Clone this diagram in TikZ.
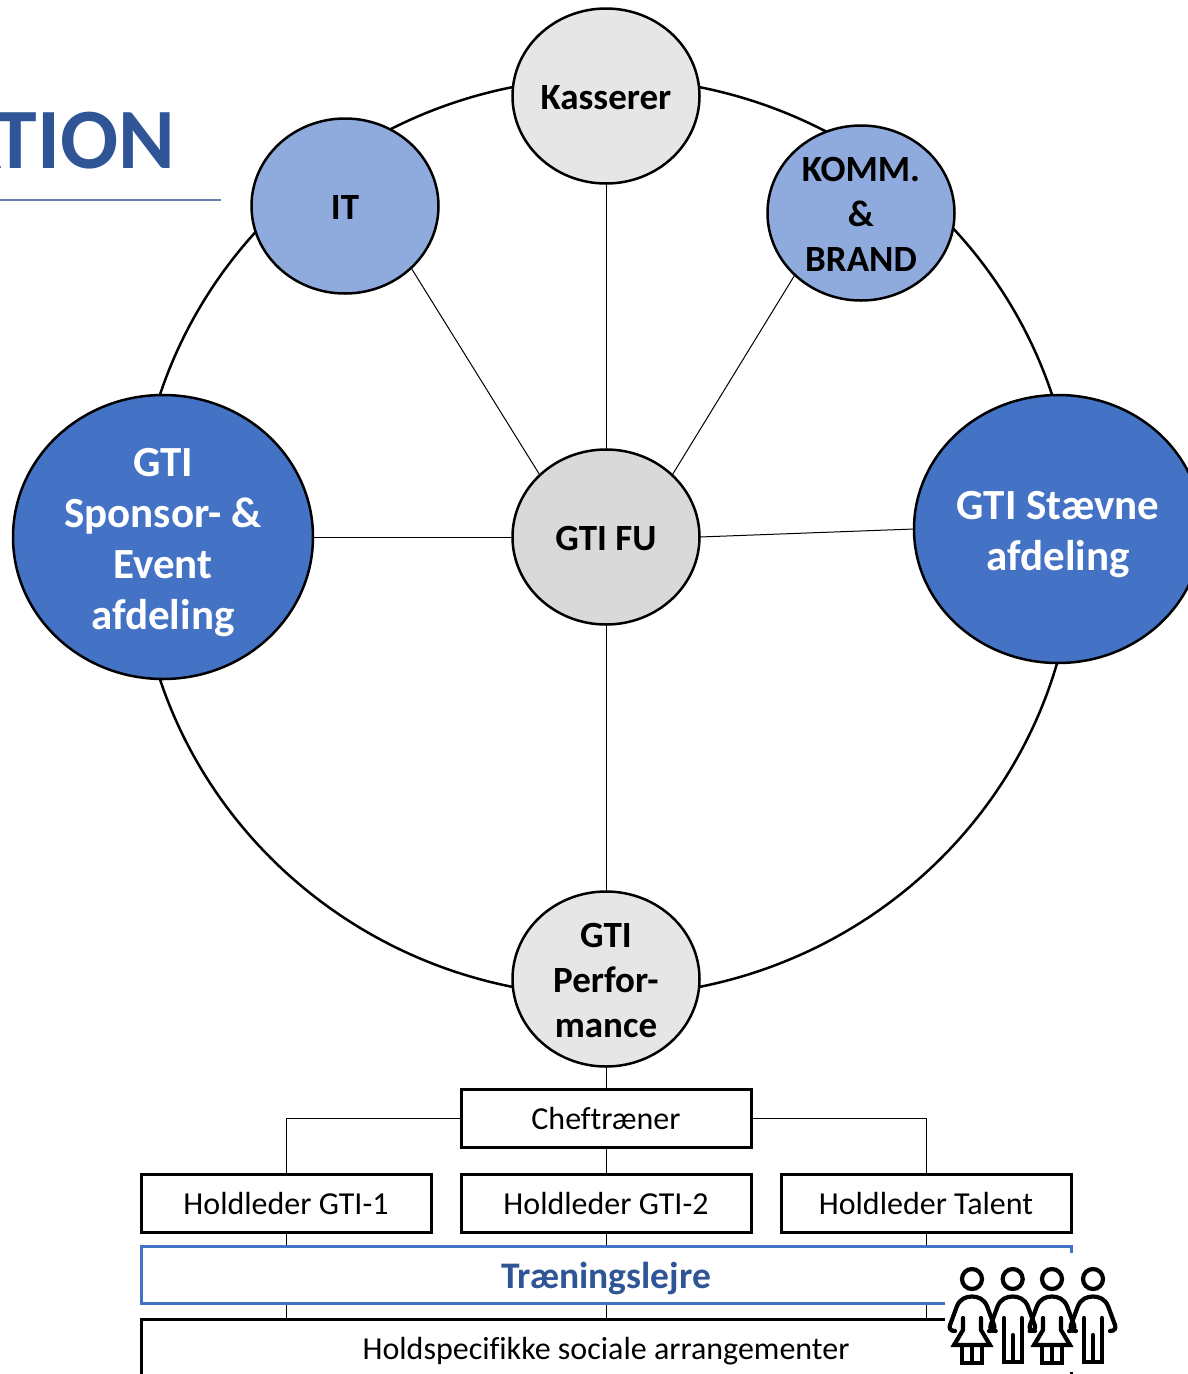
\documentclass[tikz,border=0pt]{standalone}
\usepackage{fontspec}
\setmainfont{Carlito}[Ligatures=NoCommon]
\usetikzlibrary{shapes.geometric}
\definecolor{titleblue}{HTML}{2F5597}
\definecolor{midblue}{HTML}{4472C4}
\definecolor{lightblue}{HTML}{8FAADC}
\definecolor{palegrey}{HTML}{E7E6E6}
\definecolor{fugrey}{HTML}{D9D9D9}
\newcommand{\topstrut}[1]{\rule{0pt}{#1pt}}
\tikzset{
  x=1pt,y=-1pt,
  circ/.style={ellipse,draw=black,line width=2.5pt,inner sep=0pt,outer sep=0pt,align=center,font=\bfseries},
  small/.style={circ,minimum width=187pt,minimum height=175pt,font=\fontsize{37}{45}\bfseries\selectfont},
  large/.style={circ,fill=midblue,text=white,font=\fontsize{43}{51}\bfseries\selectfont},
  conn/.style={draw=black,line width=1pt},
  boxn/.style={draw=black,line width=3pt,fill=white,minimum width=290pt,minimum height=58pt,inner sep=0pt,outer sep=0pt,font=\fontsize{32}{38}\selectfont},
  person/.style={draw=black,line width=4.2pt,line join=miter,line cap=round},
  torso/.pic={
    \draw[person] (0,0) circle (10);
    \draw[person] (-17,52) .. controls (-22,52) and (-23,49) .. (-22,46)
      -- (-15,27) .. controls (-12,20) and (-6,17.5) .. (0,17.5)
      .. controls (6,17.5) and (12,20) .. (15,27) -- (22,46)
      .. controls (23,49) and (22,52) .. (17,52);
  },
  womanicon/.pic={
    \pic {torso};
    \draw[person] (-9,39) -- (-9,51) -- (-18,66) -- (18,66) -- (9,51) -- (9,39);
    \draw[person] (-10,66) -- (-10,84) -- (10,84) -- (10,66);
    \draw[person] (0,66) -- (0,84);
  },
  manicon/.pic={
    \pic {torso};
    \draw[person] (-9,39) -- (-9,83) -- (9,83) -- (9,39);
    \draw[person] (0,56) -- (0,83);
  },
}
\begin{document}
\begin{tikzpicture}
\useasboundingbox (0,0) rectangle (1188,1374);
\clip (0,0) rectangle (1188,1374);
\fill[white] (0,0) rectangle (1188,1374);
% title
\node[anchor=base east,inner sep=0pt,text=titleblue,font=\fontsize{86}{86}\bfseries\selectfont] (title) at (175,168) {ATION};
\coordinate (ruleL) at (0,200);
\coordinate (ruleR) at (221,200);
\draw[color=titleblue!75,line width=1.8pt] (ruleL) -- (ruleR);
% ring
\draw[black,line width=2.5pt] (606,537) ellipse (469 and 459);
% nodes
\node[small,fill=fugrey] (fu) at (606,537) {\topstrut{27}GTI FU};
\node[small,fill=palegrey] (kass) at (606,96) {\topstrut{28}Kasserer};
\node[small,fill=lightblue] (it) at (345,206) {\topstrut{26}IT};
\node[small,fill=lightblue] (komm) at (861,213) {\topstrut{27}KOMM.\\\&\\BRAND};
\node[small,fill=palegrey] (perf) at (606,979) {\topstrut{28}GTI\\Perfor-\\mance};
\node[large,minimum width=300pt,minimum height=284pt] (spon) at (163,537) {\topstrut{39}GTI\\Sponsor- \&\\Event\\afdeling};
\node[large,minimum width=288pt,minimum height=268pt] (stav) at (1058,529) {\topstrut{39}GTI Stævne\\afdeling};
% spokes
\draw[conn] (kass) -- (fu);
\draw[conn] (perf) -- (fu);
\draw[conn] (it.south east) -- (fu.north west);
\draw[conn] (komm.south west) -- (fu.north east);
\draw[conn] (spon.east) -- (fu.west);
\draw[conn] (stav.west) -- (fu.east);
% boxes
\node[boxn] (chef) at (606,1118) {Cheftræner};
\node[boxn] (h1) at (286,1203) {Holdleder GTI-1};
\node[boxn] (h2) at (606,1203) {Holdleder GTI-2};
\node[boxn] (h3) at (926,1203) {Holdleder Talent};
\node[boxn,minimum width=930pt,minimum height=60pt] (soc) at (606,1349) {\topstrut{27}Holdspecifikke sociale arrangementer};
\draw[conn] (perf.south) -- (chef.north);
\draw[conn] (chef.south) -- (h2.north);
\draw[conn] (chef.west) -| (h1.north);
\draw[conn] (chef.east) -| (h3.north);
\draw[conn] (h1.south) -- (h1.south |- soc.north);
\draw[conn] (h2.south) -- (h2.south |- soc.north);
\draw[conn] (h3.south) -- (h3.south |- soc.north);
\node[draw=midblue,line width=3pt,fill=white,minimum width=930pt,minimum height=57pt,inner sep=0pt,text=titleblue,font=\fontsize{37.5}{44}\bfseries\selectfont] (tr) at (606,1274.5) {\topstrut{35}Træningslejre};
% icon group
\fill[white] (945,1253) rectangle (1120,1372);
\pic at (972,1279) {womanicon};
\pic at (1012.7,1279) {manicon};
\pic at (1052,1279) {womanicon};
\pic at (1093,1279) {manicon};
\end{tikzpicture}
\end{document}
